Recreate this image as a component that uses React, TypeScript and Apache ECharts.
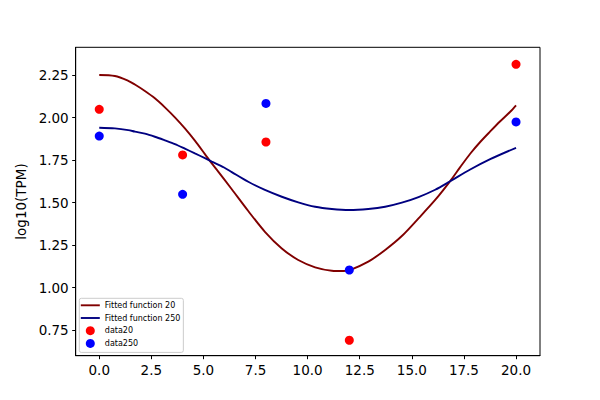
import React, { useEffect, useRef } from "react";
import * as echarts from "echarts";

const xTicks = [0, 2.5, 5, 7.5, 10, 12.5, 15, 17.5, 20];
const yTicks = [0.75, 1.0, 1.25, 1.5, 1.75, 2.0, 2.25];

// Fitted curves
const fit20X = [0, 0.75, 1.39, 1.71, 2.19, 2.67, 3.15, 3.63, 4.11, 4.59, 5.07, 5.4, 5.71, 6.36, 7.15, 7.95, 8.76, 9.55, 10.36, 11.16, 11.7, 12.0, 12.91, 13.72, 14.52, 15.32, 16.12, 16.84, 17.32, 17.8, 18.28, 18.76, 19.24, 19.72, 20.0];
const fit20Y = [2.25, 2.244, 2.216, 2.194, 2.156, 2.113, 2.06, 2.001, 1.936, 1.864, 1.785, 1.73, 1.682, 1.578, 1.45, 1.328, 1.23, 1.162, 1.119, 1.099, 1.097, 1.101, 1.152, 1.221, 1.303, 1.407, 1.515, 1.626, 1.708, 1.787, 1.856, 1.918, 1.978, 2.034, 2.072];
const fit250X = [0, 0.75, 1.39, 1.71, 2.19, 2.67, 3.15, 3.63, 4.11, 4.59, 5.07, 5.4, 5.99, 6.36, 7.15, 7.95, 8.76, 9.55, 10.36, 11.16, 12.0, 12.91, 13.72, 14.52, 15.32, 16.12, 16.84, 17.8, 18.76, 20.0];
const fit250Y = [1.94, 1.936, 1.926, 1.917, 1.905, 1.887, 1.866, 1.844, 1.817, 1.789, 1.761, 1.741, 1.706, 1.679, 1.622, 1.574, 1.534, 1.501, 1.475, 1.462, 1.456, 1.462, 1.475, 1.499, 1.532, 1.575, 1.625, 1.694, 1.755, 1.822];

// Measured data points
const dataX = [0, 4, 8, 12, 20];
const data20 = [2.048, 1.78, 1.856, 0.69, 2.313];
const data250 = [1.891, 1.548, 2.083, 1.103, 1.974];

const FONT = "DejaVu Sans";
const LINE_ICON = "path://M0,0H20V2H0Z";

export default function App() {
  const ref = useRef<HTMLDivElement>(null);
  useEffect(() => {
    if (!ref.current) return;
    const chart = echarts.init(ref.current, null, { renderer: "svg" });
    const pair = (xs: number[], ys: number[]) => xs.map((x, i) => [x, ys[i]]);
    chart.setOption({
      animation: false,
      backgroundColor: "#ffffff",
      textStyle: { fontFamily: FONT },
      grid: {
        left: 75.7,
        right: 60,
        top: 47.3,
        bottom: 44.3,
        show: true,
        borderColor: "#000",
        borderWidth: 1,
        backgroundColor: "transparent",
      },
      legend: {
        orient: "vertical",
        left: 79.3,
        top: 298.3,
        padding: [2.5, 3, 4.5, 1.5],
        itemWidth: 19,
        itemHeight: 9,
        itemGap: 3.7,
        borderColor: "#cccccc",
        borderWidth: 1,
        borderRadius: 2,
        backgroundColor: "rgba(255,255,255,0.8)",
        textStyle: { fontFamily: FONT, fontSize: 8, color: "#000", lineHeight: 9 },
        data: [
          { name: "Fitted function 20", icon: LINE_ICON },
          { name: "Fitted function 250", icon: LINE_ICON },
          { name: "data20", icon: "circle" },
          { name: "data250", icon: "circle" },
        ],
      },
      xAxis: {
        type: "value",
        min: -1.13,
        max: 21.15,
        splitLine: { show: false },
        axisLine: { show: true, onZero: false, lineStyle: { color: "#000", width: 1 } },
        axisTick: { show: true, length: 3.5, lineStyle: { color: "#000" }, customValues: xTicks },
        axisLabel: {
          color: "#000",
          fontFamily: FONT,
          fontSize: 13.5,
          margin: 7,
          customValues: xTicks,
          formatter: (v: number) => v.toFixed(1),
        },
      },
      yAxis: {
        type: "value",
        min: 0.599,
        max: 2.413,
        name: "log10(TPM)",
        nameLocation: "middle",
        nameGap: 46,
        nameTextStyle: { fontFamily: FONT, fontSize: 13.5, color: "#000" },
        splitLine: { show: false },
        axisLine: { show: true, onZero: false, lineStyle: { color: "#000", width: 1 } },
        axisTick: { show: true, length: 3.5, lineStyle: { color: "#000" }, customValues: yTicks },
        axisLabel: {
          color: "#000",
          fontFamily: FONT,
          fontSize: 13.5,
          margin: 7,
          customValues: yTicks,
          formatter: (v: number) => v.toFixed(2),
        },
      },
      series: [
        {
          name: "Fitted function 20",
          type: "line",
          data: pair(fit20X, fit20Y),
          smooth: 0.3,
          symbol: "none",
          color: "#800000",
          itemStyle: { color: "#800000" },
          lineStyle: { color: "#800000", width: 1.9 },
          z: 2,
        },
        {
          name: "Fitted function 250",
          type: "line",
          data: pair(fit250X, fit250Y),
          smooth: 0.3,
          symbol: "none",
          color: "#000080",
          itemStyle: { color: "#000080" },
          lineStyle: { color: "#000080", width: 1.9 },
          z: 2,
        },
        {
          name: "data20",
          type: "scatter",
          data: pair(dataX, data20),
          symbolSize: 9,
          itemStyle: { color: "#ff0000", opacity: 1 },
          z: 3,
        },
        {
          name: "data250",
          type: "scatter",
          data: pair(dataX, data250),
          symbolSize: 9,
          itemStyle: { color: "#0000ff", opacity: 1 },
          z: 3,
        },
      ],
    });
    return () => chart.dispose();
  }, []);
  return (
    <div
      ref={ref}
      style={{ position: "absolute", left: 0, top: 0, width: 600, height: 400 }}
    />
  );
}
